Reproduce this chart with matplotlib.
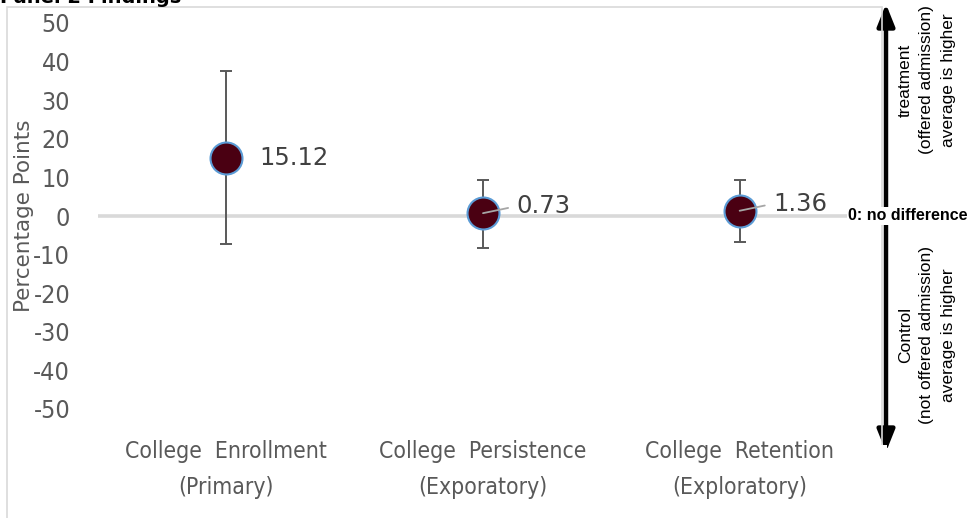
import matplotlib
matplotlib.use('Agg')
import matplotlib.pyplot as plt
from matplotlib.patches import Rectangle

# data
categories = ['College  Enrollment\n(Primary)',
              'College  Persistence\n(Exporatory)',
              'College  Retention\n(Exploratory)']
estimates = [15.12, 0.73, 1.36]
ci_upper = [37.5, 9.4, 9.2]
ci_lower = [-7.3, -8.2, -6.7]
yticks = [50, 40, 30, 20, 10, 0, -10, -20, -30, -40, -50]

GREY = '#595959'

fig = plt.figure(figsize=(9.77, 5.18), dpi=100)
ax = fig.add_axes([98 / 977, 1 - 409 / 518, 770 / 977, 386 / 518])

xs = list(range(len(categories)))
err_lo = [e - lo for e, lo in zip(estimates, ci_lower)]
err_hi = [hi - e for e, hi in zip(estimates, ci_upper)]

ax.axhline(0, color='#D9D9D9', lw=2.6, zorder=1)
ax.errorbar(xs, estimates, yerr=[err_lo, err_hi], fmt='none',
            ecolor=GREY, elinewidth=1.4, capsize=4.5, capthick=1.4, zorder=2)
ax.plot(xs, estimates, 'o', ms=23, mfc='#4A0012', mec='#5B9BD5', mew=1.5,
        zorder=3)

# data labels
offsets = [(24, 0), (24, 5), (24, 5)]
for i, (x, v) in enumerate(zip(xs, estimates)):
    if i == 0:
        ax.annotate(f'{v:.2f}', (x, v), xytext=offsets[i],
                    textcoords='offset points', va='center', ha='left',
                    fontsize=17.5, color='#404040', zorder=4)
    else:
        ax.annotate(f'{v:.2f}', (x, v), xytext=offsets[i],
                    textcoords='offset points', va='center', ha='left',
                    fontsize=17.5, color='#404040', zorder=4,
                    arrowprops=dict(arrowstyle='-', color='#A6A6A6', lw=1.3,
                                    shrinkA=4, shrinkB=0,
                                    relpos=(0, 0.5)))

ax.set_xlim(-0.5, len(categories) - 0.5)
ax.set_ylim(-50, 50)
ax.set_yticks(yticks)
ax.set_yticklabels([str(t) for t in yticks], family='DejaVu Sans',
                   stretch='condensed', fontsize=18, color=GREY)
ax.set_xticks(xs)
ax.set_xticklabels(categories, family='DejaVu Sans', stretch='condensed',
                   fontsize=16.5, color=GREY, linespacing=1.75)
ax.tick_params(axis='y', length=0, pad=20)
ax.tick_params(axis='x', length=0, pad=22)
for s in ax.spines.values():
    s.set_visible(False)
ax.set_ylabel('Percentage Points', fontsize=15.5, color=GREY)
ax.yaxis.set_label_coords(-64 / 770, 0.5)

# chart border
fig.patches.append(Rectangle((7 / 977, -0.1), 875 / 977, 1.1 - 7 / 518,
                             transform=fig.transFigure, fill=False,
                             ec='#D9D9D9', lw=1.2))

# title (clipped at top, as in the source image)
fig.text(0.0, 1 - 3 / 518, 'Panel 2 Findings', fontsize=14,
         fontweight='bold', va='baseline', ha='left')

# right side annotation
fig.patches.append(Rectangle((877 / 977, 0), 10 / 977, 0.14,
                             transform=fig.transFigure, fc='white',
                             ec='none'))
ax.annotate('', xy=(886 / 977, 1 - 4 / 518), xytext=(886 / 977, 1 - 452 / 518),
            xycoords='figure fraction', textcoords='figure fraction',
            arrowprops=dict(arrowstyle='<|-|>,head_length=0.95,head_width=0.38',
                            mutation_scale=14, color='black', lw=3.2,
                            shrinkA=0, shrinkB=0))
fig.text(848 / 977, 1 - 216 / 518, '0: no difference', fontsize=11.5,
         fontweight='bold', family='Liberation Sans', va='center', ha='left',
         bbox=dict(fc='white', ec='none', pad=1))
fig.text(927 / 977, 1 - 80 / 518,
         'treatment\n(offered admission)\naverage is higher',
         rotation=90, fontsize=12.5, family='Liberation Sans', ha='center',
         va='center', linespacing=1.55)
fig.text(927 / 977, 1 - 335 / 518,
         'Control\n(not offered admission)\naverage is higher',
         rotation=90, fontsize=12.5, family='Liberation Sans', ha='center',
         va='center', linespacing=1.55)

fig.savefig('out.png', dpi=100, facecolor='white')
